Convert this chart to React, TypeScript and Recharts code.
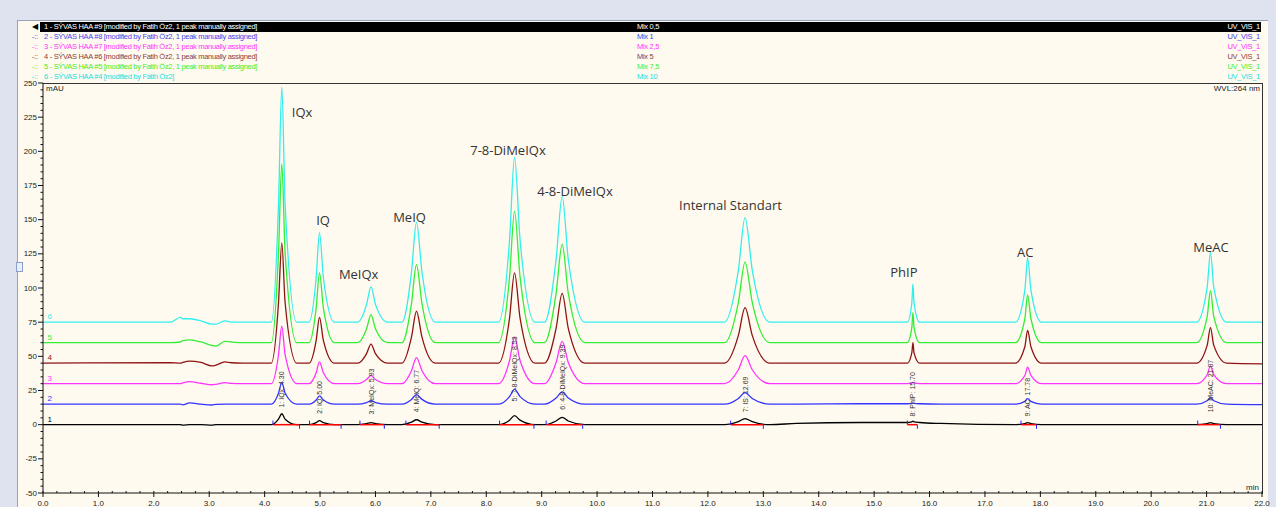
import React from 'react'
import { LineChart, Line, XAxis, YAxis, ReferenceDot, ReferenceLine } from 'recharts'

// retention time (min) of every sampled point, shared by all six runs
const times = [
  0, 2.3, 2.48, 2.52, 2.65, 2.85, 3.05, 3.12, 3.28, 3.4, 3.6,
  4.12, 4.25, 4.31, 4.37, 4.58,
  4.8, 4.93, 4.99, 5.06, 5.26,
  5.68, 5.84, 5.92, 6.0, 6.22,
  6.48, 6.65, 6.74, 6.84, 7.08,
  8.22, 8.42, 8.51, 8.61, 8.88,
  9.05, 9.26, 9.37, 9.48, 9.78,
  12.3, 12.55, 12.67, 12.8, 13.12,
  13.6, 14.75,
  15.6, 15.68, 15.7, 15.72, 15.82,
  16.2,
  17.55, 17.72, 17.77, 17.83, 18.02,
  20.82, 21.01, 21.07, 21.13, 21.36,
  22,
]

// mAU, Mix 0,5
const run1 = [
  0, 0, 0, -0.3, 0, 0, -0.4, 0, 0, 0, 0,
  0, 4, 8, 4, 0,
  0, 1.5, 3, 1.5, 0,
  0, 0.8, 1.5, 0.8, 0,
  0, 1.8, 3.6, 1.8, 0,
  0, 3.3, 6.6, 3.3, 0,
  0, 2.7, 5.4, 2.7, 0,
  0, 2.2, 4.4, 2.2, 0,
  0.9, 1.6,
  1.6, 2.1, 2.6, 2.1, 1.6,
  0.9,
  0, 0.8, 1.5, 0.8, 0,
  0, 0.8, 1.5, 0.8, 0,
  0,
]
// Mix 1
const run2 = [
  15, 15, 15, 14.5, 16, 15, 14.4, 14.8, 15, 15, 15,
  15, 23, 31, 23, 15,
  15, 18, 21, 18, 15,
  15, 16.2, 17.5, 16.2, 15,
  15, 18.5, 22, 18.5, 15,
  15, 20.5, 26, 20.5, 15,
  15, 19.5, 24, 19.5, 15,
  15, 19.2, 23.4, 19.2, 15,
  15, 15.3,
  15.3, 15.6, 16, 15.6, 15.3,
  15,
  15, 17, 19, 17, 15,
  15, 17.5, 20, 17.5, 15,
  14.6,
]
// Mix 2,5
const run3 = [
  30, 30, 30, 30.5, 31.5, 30.3, 29.2, 29.5, 30.7, 30.2, 30,
  30, 51, 72, 51, 30,
  30, 38, 46, 38, 30,
  30, 33, 36, 33, 30,
  30, 39.5, 49, 39.5, 30,
  30, 47, 64, 47, 30,
  30, 45.5, 61, 45.5, 30,
  30, 40.2, 50.5, 40.2, 30,
  30, 30,
  30, 30.5, 31, 30.5, 30,
  30,
  30, 36, 42, 36, 30,
  30, 36.5, 43, 36.5, 30,
  30,
]
// Mix 5
const run4 = [
  45, 45.3, 45, 45.5, 46.5, 45.5, 43, 43.5, 46, 45.3, 45,
  45, 89, 133, 89, 45,
  45, 61.7, 78.5, 61.7, 45,
  45, 52, 59, 52, 45,
  45, 64, 83, 64, 45,
  45, 78, 111, 78, 45,
  45, 70.5, 96, 70.5, 45,
  45, 65.3, 85.6, 65.3, 45,
  45, 45,
  45, 52.5, 60, 52.5, 45,
  45,
  45, 57, 69, 57, 45,
  45, 58, 71, 58, 45,
  44.5,
]
// Mix 7,5
const run5 = [
  60, 60, 60.5, 61.5, 62, 60.5, 58, 57.5, 61, 60.5, 60,
  60, 125.5, 191, 125.5, 60,
  60, 85.5, 111, 85.5, 60,
  60, 70.2, 80.5, 70.2, 60,
  60, 88.5, 117, 88.5, 60,
  60, 108, 156, 108, 60,
  60, 96, 132, 96, 60,
  60, 89.5, 119, 89.5, 60,
  60, 60,
  60, 71, 82, 71, 60,
  60,
  60, 77.5, 95, 77.5, 60,
  60, 79, 98, 79, 60,
  60,
]
// Mix 10
const run6 = [
  75, 75, 78.5, 77.5, 77.5, 76, 73.5, 73.5, 76, 75, 75,
  75, 161, 247, 161, 75,
  75, 107.7, 140.5, 107.7, 75,
  75, 88, 101, 88, 75,
  75, 111.5, 148, 111.5, 75,
  75, 135.2, 195.5, 135.2, 75,
  75, 121, 167, 121, 75,
  75, 113.2, 151.5, 113.2, 75,
  75, 75,
  75, 89, 103, 89, 75,
  75,
  75, 98.5, 122, 98.5, 75,
  75, 100.5, 126, 100.5, 75,
  75,
]

const runs = [run1, run2, run3, run4, run5, run6]
const runColors = ['#000000', '#3333ff', '#ff33ff', '#8e1414', '#33ee33', '#33eeee']
const runOffsets = [0, 15, 30, 45, 60, 75]

const headerNames = [
  '1 - SÝVAS HAA #9 [modified by Fatih Öz2, 1 peak manually assigned]',
  '2 - SÝVAS HAA #8 [modified by Fatih Öz2, 1 peak manually assigned]',
  '3 - SÝVAS HAA #7 [modified by Fatih Öz2, 1 peak manually assigned]',
  '4 - SÝVAS HAA #6 [modified by Fatih Öz2, 1 peak manually assigned]',
  '5 - SÝVAS HAA #5 [modified by Fatih Öz2, 1 peak manually assigned]',
  '6 - SÝVAS HAA #4 [modified by Fatih Öz2]',
]
const mixLabels = ['Mix 0,5', 'Mix 1', 'Mix 2,5', 'Mix 5', 'Mix 7,5', 'Mix 10']
const headerColors = ['#ffffff', '#4444ee', '#ff33ff', '#8b3a3a', '#44ee22', '#22dddd']

const compoundNames = ['IQx', 'IQ', 'MeIQx', 'MeIQ', '7-8-DiMeIQx', '4-8-DiMeIQx', 'Internal Standart', 'PhIP', 'AC', 'MeAC']
const nameTimes = [4.49, 4.93, 5.34, 6.32, 7.71, 8.92, 11.48, 15.29, 17.58, 20.76]
const nameLevels = [229, 150, 110, 152, 201, 171, 161, 112, 126.5, 130]

const peakLabels = [
  '1: IQx: 4.30', '2: IQ: 5.00', '3: MeIQx: 5.93', '4: MeIQ: 6.77', '5: 7-8-DiMeIQx: 8.53',
  '6: 4-8-DiMeIQx: 9.39', '7: IS: 12.69', '8: PhIP: 15.70', '9: AC: 17.78', '10: MeAC: 21.07',
]
const peakTimes = [4.3, 4.99, 5.92, 6.74, 8.51, 9.37, 12.67, 15.7, 17.77, 21.07]
const peakLabelLevels = [12.5, 8, 7.5, 9, 17, 11, 9, 6, 6, 9]

const integStart = [4.15, 4.81, 5.72, 6.55, 8.24, 9.08, 12.41, 15.6, 17.65, 20.84]
const integEnd = [4.63, 5.38, 6.16, 7.15, 8.86, 9.74, 13.0, 15.78, 17.93, 21.25]

const xTicks = Array.from({ length: 89 }, (_, i) => i * 0.25)
const yTicks = Array.from({ length: 61 }, (_, i) => -50 + i * 5)

const rows = times.map((time, i) => {
  const row: Record<string, number> = { time }
  runs.forEach((r, k) => (row[`r${k + 1}`] = r[i]))
  return row
})

const YTick = (props: any) => {
  const { x, y, payload } = props
  const v = payload.value
  const major = v % 25 === 0
  return (
    <g>
      <line x1={x - (major ? 5 : 2.5)} x2={x} y1={y} y2={y} stroke="#111" />
      {major && (
        <text x={x - 6} y={y} textAnchor="end" dominantBaseline="central" fontSize={8} fill="#222">
          {v}
        </text>
      )}
    </g>
  )
}

const XTick = (props: any) => {
  const { x, y, payload } = props
  const v = payload.value
  const major = Number.isInteger(v)
  return (
    <g>
      <line x1={x} x2={x} y1={y - 2} y2={major ? y + 4 : y} stroke="#111" />
      {major && (
        <text x={x} y={y + 10} textAnchor="middle" dominantBaseline="central" fontSize={8} fill="#222">
          {v.toFixed(1)}
        </text>
      )}
    </g>
  )
}

const textAt = (text: string, opts: any) => (p: any) => {
  const vb = p.viewBox || {}
  const x = (vb.x ?? p.x) + (vb.width ?? 0) / 2
  const y = (vb.y ?? p.y) + (vb.height ?? 0) / 2
  return (
    <text
      x={x}
      y={y}
      transform={opts.rotate ? `rotate(-90 ${x} ${y})` : undefined}
      textAnchor={opts.anchor || 'start'}
      dominantBaseline="central"
      fontSize={opts.size}
      fontFamily={opts.family}
      fill={opts.fill}
    >
      {text}
    </text>
  )
}

export default function App() {
  return (
    <div
      style={{
        position: 'relative',
        width: 1276,
        height: 507,
        background: '#dfe2ef',
        overflow: 'hidden',
        fontFamily: '"Liberation Sans", Arial, sans-serif',
      }}
    >
      <style>{'body{margin:0}'}</style>
      <div
        style={{
          position: 'absolute', left: 17, top: 20, width: 1250, height: 490,
          background: '#fffaf0', borderTop: '1px solid #9aa2b8', borderLeft: '1px solid #9aa2b8',
        }}
      />
      <div style={{ position: 'absolute', left: 16, top: 262, width: 5, height: 8, border: '1px solid #8aa0c8', background: '#e8eefc' }} />
      <div
        style={{
          position: 'absolute', left: 43, top: 83, width: 1219, height: 410,
          borderTop: '1px solid #333', borderRight: '1px solid #333',
        }}
      />
      {headerNames.map((name, i) => (
        <div
          key={name}
          style={{
            position: 'absolute', top: 22 + i * 10, left: 0, width: 1276, height: 9,
            fontSize: 7.5, lineHeight: '9px', letterSpacing: -0.3, color: headerColors[i],
          }}
        >
          {i === 0 && (
            <div style={{ position: 'absolute', left: 40, top: -0.5, width: 1221, height: 10, background: '#000' }} />
          )}
          <span style={{ position: 'absolute', left: 32, color: i === 0 ? '#000' : headerColors[i] }}>
            {i === 0 ? '◀' : '-::'}
          </span>
          <span style={{ position: 'absolute', left: 44 }}>{name}</span>
          <span style={{ position: 'absolute', left: 637 }}>{mixLabels[i]}</span>
          <span style={{ position: 'absolute', right: 16 }}>UV_VIS_1</span>
        </div>
      ))}
      <div style={{ position: 'absolute', left: 46, top: 84, fontSize: 8, color: '#222' }}>mAU</div>
      <div style={{ position: 'absolute', right: 16, top: 84, fontSize: 8, color: '#222' }}>WVL:264 nm</div>
      <div style={{ position: 'absolute', left: 1246, top: 483, fontSize: 8, color: '#222' }}>min</div>
      <div style={{ position: 'absolute', left: 0, top: 0 }}>
        <LineChart width={1276} height={507} data={rows} margin={{ top: 83, right: 14, bottom: 0, left: 3 }}>
          <XAxis
            type="number"
            dataKey="time"
            domain={[0, 22]}
            ticks={xTicks}
            interval={0}
            height={14}
            tickSize={0}
            tickMargin={0}
            tickLine={false}
            axisLine={{ stroke: '#111' }}
            tick={<XTick />}
            allowDataOverflow
          />
          <YAxis
            type="number"
            domain={[-50, 250]}
            ticks={yTicks}
            interval={0}
            width={40}
            tickSize={0}
            tickMargin={0}
            tickLine={false}
            axisLine={{ stroke: '#111' }}
            tick={<YTick />}
            allowDataOverflow
          />
          {runs.map((_, k) => (
            <Line
              key={k}
              type="monotone"
              dataKey={`r${k + 1}`}
              stroke={runColors[k]}
              strokeWidth={1.3}
              dot={false}
              isAnimationActive={false}
            />
          ))}
          {integStart.map((s, i) => (
            <ReferenceLine key={`ir${i}`} segment={[{ x: s, y: 0 }, { x: integEnd[i], y: 0 }]} stroke="#ff0000" strokeWidth={1.5} />
          ))}
          {integStart.map((s, i) => (
            <ReferenceLine key={`is${i}`} segment={[{ x: s, y: 0 }, { x: s, y: 3 }]} stroke="#2222ff" />
          ))}
          {integEnd.map((e, i) => (
            <ReferenceLine key={`ie${i}`} segment={[{ x: e, y: 0 }, { x: e, y: -3 }]} stroke="#2222ff" />
          ))}
          {runOffsets.map((b, k) => (
            <ReferenceDot
              key={`n${k}`}
              x={0.12}
              y={b + 4}
              r={0}
              fill="none"
              stroke="none"
              label={textAt(String(k + 1), { size: 8, fill: runColors[k], anchor: 'middle' })}
            />
          ))}
          {peakLabels.map((t, i) => (
            <ReferenceDot
              key={`p${i}`}
              x={peakTimes[i]}
              y={peakLabelLevels[i]}
              r={0}
              fill="none"
              stroke="none"
              label={textAt(t, { size: 7, fill: '#333', rotate: true })}
            />
          ))}
          {compoundNames.map((t, i) => (
            <ReferenceDot
              key={`c${i}`}
              x={nameTimes[i]}
              y={nameLevels[i]}
              r={0}
              fill="none"
              stroke="none"
              label={textAt(t, { size: 13, fill: '#333', family: '"Open Sans", "DejaVu Sans", sans-serif' })}
            />
          ))}
        </LineChart>
      </div>
    </div>
  )
}
